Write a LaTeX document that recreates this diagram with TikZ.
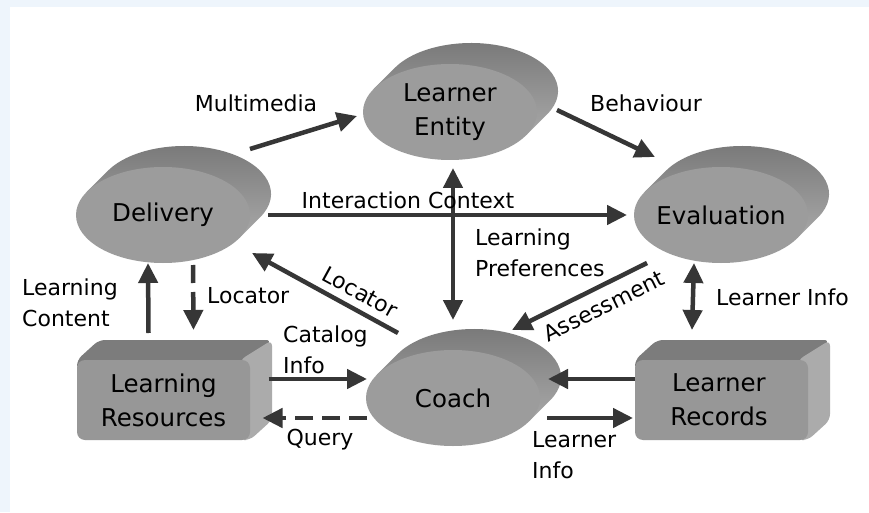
\documentclass[tikz,border=0pt]{standalone}
\usepackage{fontspec}
\setmainfont{DejaVu Sans}
\usetikzlibrary{arrows.meta,calc}
\definecolor{bgblue}{HTML}{EEF5FC}
\definecolor{arrowc}{HTML}{363636}
\definecolor{frontc}{HTML}{9C9C9C}
\definecolor{backtop}{HTML}{777777}
\definecolor{backbot}{HTML}{A8A8A8}
\definecolor{boxtop}{HTML}{7C7C7C}
\definecolor{boxside}{HTML}{ABABAB}
\definecolor{boxfront}{HTML}{979797}
\begin{document}
\begin{tikzpicture}[x=1pt,y=1pt,
  shapetext/.style={font=\fontsize{24.5}{34}\selectfont, align=center, text=black, inner sep=0pt},
  lbl/.style={font=\fontsize{22}{31}\selectfont, text=black, inner sep=0pt, align=left},
  conn/.style={draw=arrowc, line width=4.5pt, -{Triangle[length=20pt,width=19pt]}},
  conn2/.style={draw=arrowc, line width=4.5pt, {Triangle[length=20pt,width=19pt]}-{Triangle[length=20pt,width=19pt]}},
  dashedconn/.style={conn, dash pattern=on 18pt off 9pt},
  disc/.pic={
    \shade[top color=backtop, bottom color=backbot]
      (76.2,-23.2) -- ++(21,21) arc[start angle=-28.9, end angle=151.1, x radius=87, y radius=48]
      -- (-76.2,23.2) -- cycle;
    \fill[frontc] (0,0) ellipse[x radius=87, y radius=48];
  },
  block/.pic={
    \fill[boxtop, rounded corners=6pt] (-86.5,30) -- (-86.5,40) -- (-64.5,60) -- (108.5,60) -- (86.5,40) -- cycle;
    \fill[boxside, rounded corners=6pt] (76.5,40) -- (108.5,60) -- (108.5,-20) -- (86.5,-40) -- (76.5,-40) -- cycle;
    \fill[boxfront, rounded corners=8pt] (-86.5,-40) rectangle (86.5,40);
  }]
\useasboundingbox (0,0) rectangle (869,512);
\fill[bgblue] (0,0) rectangle (869,512);
\fill[white] (10,0) rectangle (869,505);

% shapes
\pic at (163,297) {disc};
\pic at (450,400) {disc};
\pic at (721,297) {disc};
\pic at (453,114) {disc};
\pic at (163.5,112) {block};
\pic at (721.5,112) {block};

% node texts
\node[shapetext] (delivery) at (163,297) {Delivery};
\node[shapetext] (entity) at (450,400) {Learner\\Entity};
\node[shapetext] (evaluation) at (721,297) {Evaluation};
\node[shapetext] (coach) at (453,114) {Coach};
\node[shapetext] (resources) at (163.5,112) {Learning\\Resources};
\node[shapetext] (records) at (719,112) {Learner\\Records};

% connectors
\draw[conn] ([shift={(87,66)}]delivery.center) -- ([shift={(-93,-4)}]entity.center);
\draw[conn] ([shift={(107,2)}]entity.center) -- ([shift={(-66,58)}]evaluation.center);
\draw[conn] ([shift={(105,0)}]delivery.center) -- ([shift={(-94,0)}]evaluation.center);
\draw[conn2] ([shift={(0,78)}]coach.center) -- ([shift={(3,-56)}]entity.center);
\draw[conn] ([shift={(-74,-48)}]evaluation.center) -- ([shift={(59,68)}]coach.center);
\draw[conn] ([shift={(-55,65)}]coach.center) -- ([shift={(89,-38)}]delivery.center);
\draw[dashedconn] ([shift={(30,-50)}]delivery.center) -- ([shift={(30,70)}]resources.center);
\draw[conn] ([shift={(-15,67)}]resources.center) -- ([shift={(-15,-48)}]delivery.center);
\draw[conn] ([shift={(105,21)}]resources.center) -- ([shift={(-86,19)}]coach.center);
\draw[dashedconn] ([shift={(-86,-20)}]coach.center) -- ([shift={(99,-18)}]resources.center);
\draw[conn] ([shift={(-84,21)}]records.center) -- ([shift={(95,19)}]coach.center);
\draw[conn] ([shift={(94,-20)}]coach.center) -- ([shift={(-86,-18)}]records.center);
\draw[conn2] ([shift={(-27,-48)}]evaluation.center) -- ([shift={(-27,70)}]records.center);

% labels
\node[lbl] (lmm) at (256,409) {Multimedia};
\node[lbl] (lbeh) at (646,409) {Behaviour};
\node[lbl] (lic) at (408,312) {Interaction Context};
\node[lbl, anchor=west] (llp) at (475,259) {Learning\\Preferences};
\node[lbl, rotate=26.4] (lass) at (604,206) {Assessment};
\node[lbl, rotate=-28.7] (lloc1) at (360,220) {Locator};
\node[lbl, anchor=west] (lloc2) at (207,216) {Locator};
\node[lbl, anchor=west] (llc) at (22,209) {Learning\\Content};
\node[lbl, anchor=west] (lci) at (283,162) {Catalog\\Info};
\node[lbl] (lq) at (320,72) {Query};
\node[lbl, anchor=west] (lli1) at (532,57) {Learner\\Info};
\node[lbl, anchor=west] (lli2) at (716,215) {Learner Info};
\end{tikzpicture}
\end{document}
